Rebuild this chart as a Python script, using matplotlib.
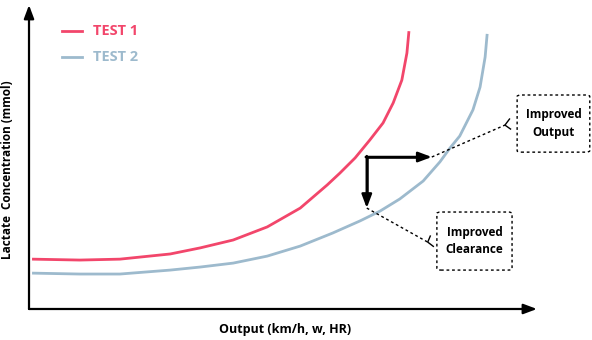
import matplotlib.pyplot as plt
from matplotlib.patches import FancyBboxPatch

plt.rcParams['font.family'] = ['Open Sans', 'DejaVu Sans']
plt.rcParams['font.weight'] = 'bold'

# lactate curves (output vs concentration, arbitrary units)
test1_x = [0.6, 10.0, 17.9, 27.8, 33.7, 40.2, 46.9, 53.4, 58.7, 61.2, 64.2, 67.1, 69.7, 71.7, 73.4, 74.4, 74.8]
test1_y = [16.4, 16.1, 16.4, 18.1, 20.1, 22.7, 27.0, 33.2, 40.8, 44.7, 49.7, 55.6, 61.2, 67.8, 75.3, 84.2, 91.4]
test2_x = [0.6, 10.0, 17.9, 27.8, 33.7, 40.2, 46.9, 53.4, 59.8, 65.2, 69.1, 73.0, 77.6, 80.9,
           82.9, 84.8, 87.4, 88.8, 89.8, 90.2]
test2_y = [11.8, 11.5, 11.5, 12.8, 13.8, 15.1, 17.4, 20.7, 25.0, 29.0, 32.2, 36.2, 42.1, 48.4,
           53.0, 56.9, 65.5, 73.0, 82.9, 90.5]

series_labels = ['TEST 1', 'TEST 2']
series_colors = ['#f2466b', '#9dbacd']

# shift marker: corner, output gain, clearance gain
corner = (66.5, 50.0)
output_tip = (79.3, 50.0)
clearance_tip = (66.5, 33.2)

fig = plt.figure(figsize=(5.92, 3.4), dpi=100)
ax = fig.add_axes([0.049, 0.0912, 0.858, 0.894])
ax.set_xlim(0, 100)
ax.set_ylim(0, 100)
ax.axis('off')

# axes drawn as arrows
arrow_kw = dict(arrowstyle='-|>,head_length=0.8,head_width=0.3', color='black', lw=1.6, shrinkA=0, shrinkB=0)
ax.annotate('', xy=(0, 1), xytext=(0, 0), xycoords='axes fraction', arrowprops=arrow_kw)
ax.annotate('', xy=(1, 0), xytext=(0, 0), xycoords='axes fraction', arrowprops=arrow_kw)

ax.plot(test1_x, test1_y, color=series_colors[0], lw=2, solid_capstyle='butt', solid_joinstyle='round')
ax.plot(test2_x, test2_y, color=series_colors[1], lw=2, solid_capstyle='butt', solid_joinstyle='round')

# legend by hand
for i, (lab, col) in enumerate(zip(series_labels, series_colors)):
    ly = 91.4 - i * 8.6
    ax.plot([6.5, 10.4], [ly, ly], color=col, lw=2, clip_on=False)
    ax.text(12.6, ly, lab, color=col, fontsize=10.5, fontweight='bold', va='center', ha='left')

# shift arrows
shift_kw = dict(arrowstyle='-|>,head_length=0.8,head_width=0.3', color='black', lw=1.8, shrinkA=0, shrinkB=0)
ax.plot([corner[0], corner[0], output_tip[0] - 2], [clearance_tip[1] + 3, corner[1], corner[1]],
        color='black', lw=1.8, solid_joinstyle='miter')
ax.annotate('', xy=output_tip, xytext=(corner[0] - 0.2, corner[1]), arrowprops=shift_kw)
ax.annotate('', xy=clearance_tip, xytext=(corner[0], corner[1] + 0.3), arrowprops=shift_kw)

# callout lines and boxes
ax.plot([output_tip[0], 93.7], [output_tip[1], 60.5], color='black', lw=1, ls=(0, (2, 2)), clip_on=False)
ax.plot([94.6, 93.7, 94.8], [62.5, 60.5, 59.2], color='black', lw=1, clip_on=False)
ax.plot([clearance_tip[0], 78.5], [clearance_tip[1], 22.0], color='black', lw=1, ls=(0, (2, 2)), clip_on=False)
ax.plot([79.0, 78.5, 79.6], [24.0, 22.0, 20.6], color='black', lw=1, clip_on=False)

boxes = [((96.1, 51.6), 14.3, 18.8, 'Improved\nOutput'),
         ((80.3, 12.8), 14.8, 19.1, 'Improved\nClearance')]
for (bx, by), bw, bh, txt in boxes:
    box = FancyBboxPatch((bx, by), bw, bh, boxstyle='round,pad=0,rounding_size=0.8',
                         fill=False, ec='black', lw=1, ls=(0, (2, 2)), clip_on=False,
                         mutation_aspect=0.6)
    ax.add_patch(box)
    ax.text(bx + bw / 2, by + bh / 2, txt, ha='center', va='center', fontsize=8.5,
            fontweight='bold', linespacing=1.45, clip_on=False)

fig.text(285 / 592, 1 - 330 / 340, 'Output (km/h, w, HR)', ha='center', va='center',
         fontsize=9, fontweight='bold')
fig.text(8 / 592, 1 - 170 / 340, 'Lactate  Concentration (mmol)', ha='center', va='center',
         rotation=90, fontsize=8.5, fontweight='bold')

fig.savefig('out.png', dpi=100)
